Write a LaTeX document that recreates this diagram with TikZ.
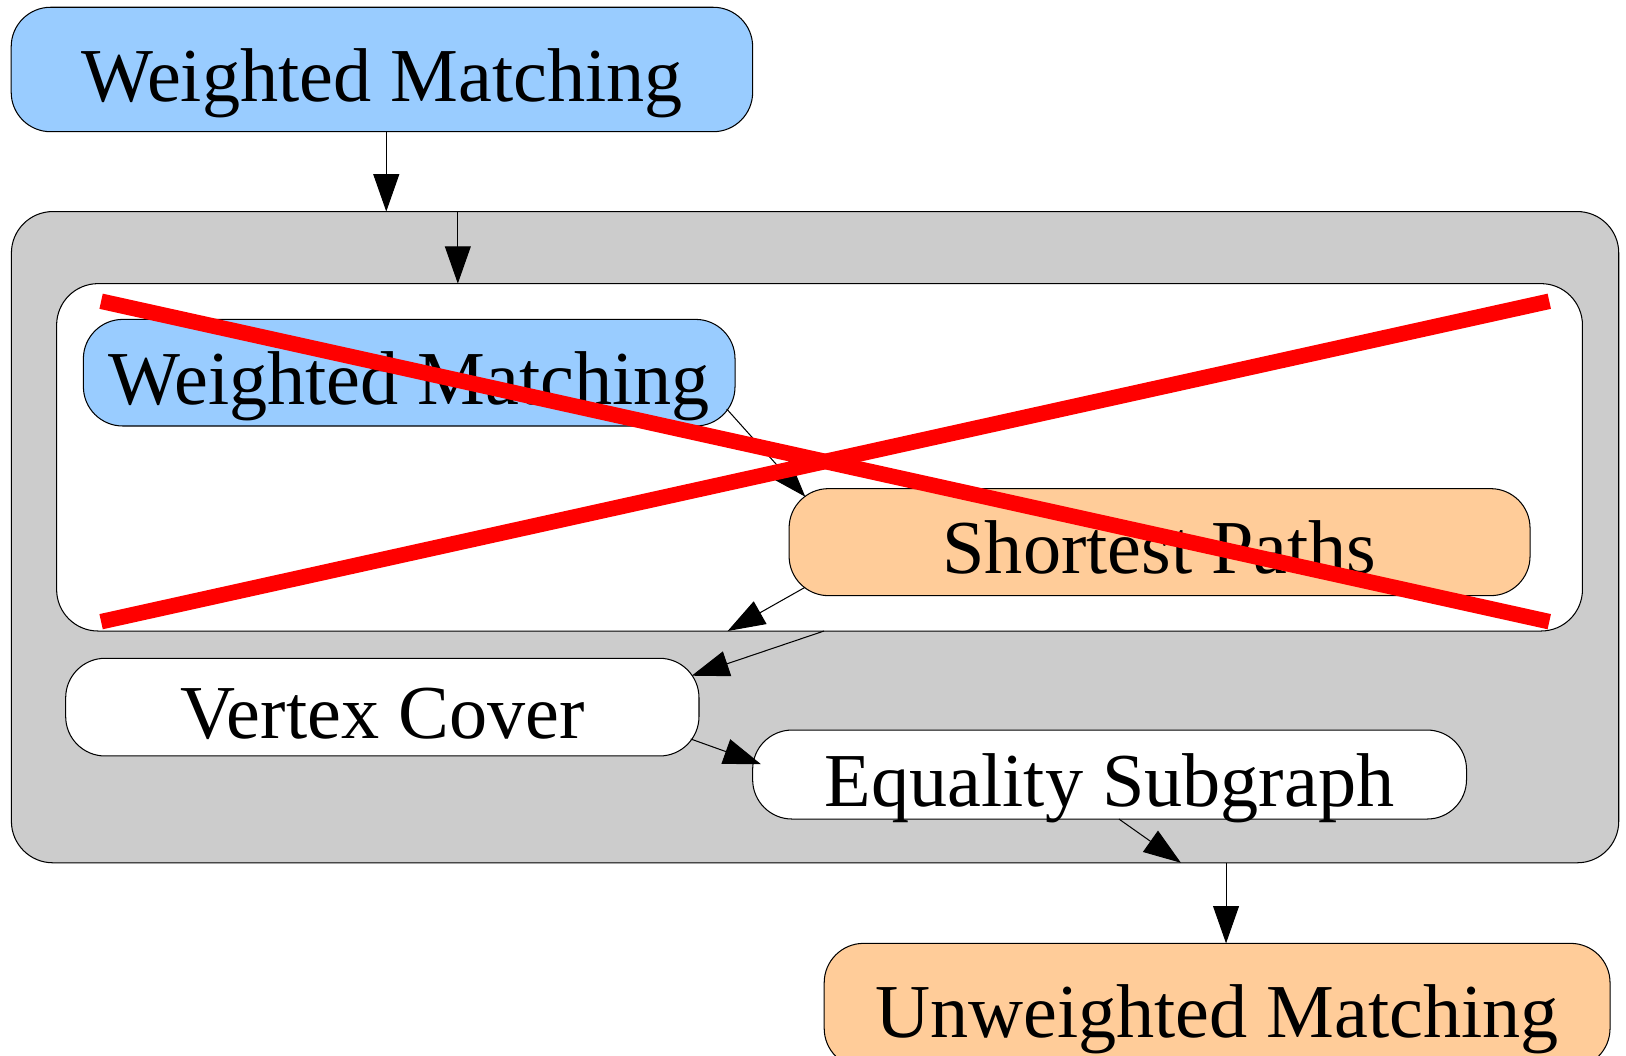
\documentclass[tikz,border=0pt]{standalone}
\usepackage{fontspec}
\setmainfont{Liberation Serif}
\usetikzlibrary{arrows.meta,calc}
\definecolor{boxblue}{HTML}{99CCFF}
\definecolor{boxorange}{HTML}{FFCC99}
\definecolor{clustergray}{HTML}{CCCCCC}
\begin{document}
\begin{tikzpicture}[x=1pt,y=-1pt,
  every node/.style={inner sep=0pt, outer sep=0pt},
  box/.style={draw=black, line width=1pt, rounded corners=38pt,
    text height=61pt, text depth=0pt,
    font=\fontsize{73.5}{88}\selectfont},
  cluster/.style={draw=black, line width=1pt, rounded corners=40pt},
  edge/.style={draw=black, line width=1pt, -{Triangle[length=36pt,width=25pt]}},
  cross/.style={draw=red, line width=15pt, line cap=butt}]

\useasboundingbox (0,0) rectangle (1568,1018);
\clip (0,0) rectangle (1568,1018);

% top-level source
\node[box, fill=boxblue, minimum width=715pt, minimum height=120pt]
  (wmtop) at (368.3,67) {Weighted Matching};

% clusters
\node[cluster, fill=clustergray, minimum width=1550pt, minimum height=628pt]
  (outer) at (786,518) {};
\node[cluster, fill=white, minimum width=1471.4pt, minimum height=335pt]
  (inner) at (790.3,441) {};

% nodes inside the clusters
\node[box, fill=boxblue, minimum width=628.4pt, minimum height=102.8pt]
  (wminner) at (394.6,359.4) {Weighted Matching};
\node[box, fill=boxorange, minimum width=714.5pt, minimum height=103.2pt]
  (sp) at (1118.2,522.8) {Shortest Paths};
\node[box, fill=white, minimum width=610.7pt, minimum height=94.2pt]
  (vc) at (368.7,681.9) {Vertex Cover};
\node[box, fill=white, minimum width=688.4pt, minimum height=85.8pt]
  (es) at (1070,746.9) {Equality Subgraph};

% bottom target
\node[box, fill=boxorange, minimum width=757.8pt, minimum height=120pt]
  (uw) at (1173.7,969.7) {Unweighted Matching};

% connectors
\coordinate (a1s) at ($(wmtop.south)+(4.2,0)$);
\draw[edge] (a1s) -- (a1s |- outer.north);

\coordinate (a2s) at ($(outer.north)+(-344.5,0)$);
\draw[edge] (a2s) -- (a2s |- inner.north);

\draw[edge] ($(wminner.south east)+(-8,-16.4)$) -- ($(sp.north west)+(15.6,7.8)$);
\draw[edge] ($(sp.south west)+(15.3,-8)$) -- ($(inner.south)+(-88.6,0)$);
\draw[edge] ($(inner.south)+(4.3,0)$) -- ($(vc.north east)+(-7,16.8)$);
\draw[edge] ($(vc.south east)+(-8,-16.4)$) -- ($(es.west)+(8,-10)$);
\draw[edge] ($(es.south)+(9,0)$) -- ($(outer.south)+(352.8,0)$);

\coordinate (a8s) at ($(outer.south)+(396.3,0)$);
\draw[edge] (a8s) -- (a8s |- uw.north);

% crossing out the inner cluster
\draw[cross] (97.5,290.5) -- (1494,599.5);
\draw[cross] (97.5,599.5) -- (1494,290.5);
\end{tikzpicture}
\end{document}
